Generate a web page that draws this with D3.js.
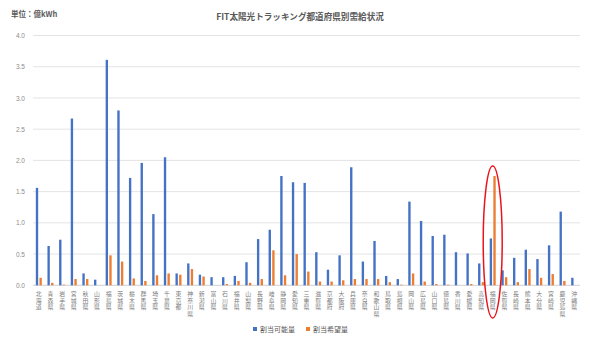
<!DOCTYPE html>
<html><head><meta charset="utf-8">
<script src="https://cdn.jsdelivr.net/npm/d3@7"></script>
<style>html,body{margin:0;padding:0;background:#fff;}svg{display:block;font-family:"Noto Sans CJK JP","Noto Sans",sans-serif;}</style>
</head><body><svg id="c" width="590" height="344"></svg>
<script>
const prefectures = ["北海道","青森県","岩手県","宮城県","秋田県","山形県","福島県","茨城県","栃木県","群馬県","埼玉県","千葉県","東京都","神奈川県","新潟県","富山県","石川県","福井県","山梨県","長野県","岐阜県","静岡県","愛知県","三重県","滋賀県","京都府","大阪府","兵庫県","奈良県","和歌山県","鳥取県","島根県","岡山県","広島県","山口県","徳島県","香川県","愛媛県","高知県","福岡県","佐賀県","長崎県","熊本県","大分県","宮崎県","鹿児島県","沖縄県"];
const allocatable = [1.56,0.63,0.73,2.67,0.19,0.09,3.61,2.80,1.72,1.96,1.14,2.05,0.19,0.35,0.17,0.13,0.13,0.15,0.37,0.74,0.89,1.75,1.65,1.64,0.53,0.25,0.48,1.89,0.38,0.71,0.15,0.10,1.34,1.03,0.79,0.81,0.53,0.51,0.35,0.75,0.24,0.44,0.57,0.42,0.64,1.18,0.12];
const requested = [0.12,0.04,0.01,0.10,0.10,0.00,0.48,0.38,0.11,0.07,0.16,0.19,0.17,0.26,0.14,0.00,0.02,0.07,0.04,0.10,0.56,0.16,0.50,0.22,0.06,0.06,0.08,0.10,0.10,0.10,0.05,0.01,0.19,0.06,0.02,0.01,0.00,0.02,0.05,1.75,0.13,0.05,0.26,0.12,0.18,0.07,0.00];
const seriesNames = ["割当可能量","割当希望量"];
const seriesColors = ["#4472C4","#ED7D31"];
const yTicks = [0,0.5,1.0,1.5,2.0,2.5,3.0,3.5,4.0];
const title = "FIT太陽光トラッキング都道府県別需給状況";
const unitLabel = "単位：億kWh";
const highlight = "福岡県";

const svg = d3.select("#c");
const L = 33, R = 580, T = 35.5, B = 285.3;
const x = d3.scaleBand().domain(prefectures).range([L, R]).paddingInner(0).paddingOuter(0);
const xs = d3.scaleBand().domain(seriesNames).range([x.bandwidth()/2 - 3.0, x.bandwidth()/2 + 3.0]).paddingInner(0.35);
const y = d3.scaleLinear().domain([0, 4]).range([B, T]);

// gridlines
svg.append("g").selectAll("line").data(yTicks).join("line")
  .attr("x1", L).attr("x2", R)
  .attr("y1", d => y(d)).attr("y2", d => y(d))
  .attr("stroke", d => d === 0 ? "#D0D0D0" : "#E4E4E4").attr("stroke-width", 1);

// y axis labels
const yAxis = d3.axisLeft(y).tickValues(yTicks).tickFormat(d3.format(".1f")).tickSize(0).tickPadding(0);
const ga = svg.append("g").attr("transform", `translate(25,0)`).call(yAxis);
ga.select(".domain").remove();
ga.selectAll("text").attr("fill", "#8C8C8C").attr("font-size", 6.5).attr("font-family", "Liberation Sans, Arial, sans-serif");

// bars
const rows = prefectures.map((p, i) => ({p, vals: [allocatable[i], requested[i]]}));
const g = svg.append("g");
rows.forEach(r => {
  g.selectAll(null).data(r.vals).join("rect")
    .attr("x", (d, j) => x(r.p) + xs(seriesNames[j]))
    .attr("width", xs.bandwidth())
    .attr("y", d => y(d))
    .attr("height", d => y(0) - y(d))
    .attr("fill", (d, j) => seriesColors[j]);
});

// category labels: one character per row, stacked vertically
const chars = [];
prefectures.forEach(p => Array.from(p).forEach((ch, k) => chars.push({p, ch, k})));
svg.append("g").selectAll("text").data(chars).join("text")
  .attr("x", d => x(d.p) + x.bandwidth()/2)
  .attr("y", d => 296 + d.k * 6.6)
  .attr("text-anchor", "middle")
  .attr("font-family", "'Liberation Sans','Noto Sans CJK JP',sans-serif")
  .attr("fill", "#7A7A7A").attr("font-size", 5.9)
  .text(d => d.ch);

// title & unit
svg.append("text").attr("x", 300).attr("y", 20).attr("text-anchor", "middle")
  .attr("font-size", 8.6).attr("font-weight", "bold").attr("fill", "#595959").text(title);
svg.append("text").attr("x", 11).attr("y", 17).attr("font-size", 7.5).attr("font-weight", "bold").attr("fill", "#595959").text(unitLabel);

// legend
const lg = svg.append("g");
const legX = [253, 306];
seriesNames.forEach((n, i) => {
  lg.append("rect").attr("x", legX[i]).attr("y", 327).attr("width", 4).attr("height", 4).attr("fill", seriesColors[i]);
  lg.append("text").attr("x", legX[i] + 7).attr("y", 331.5).attr("font-size", 7).attr("fill", "#595959").text(n);
});

// highlight ellipse
const hx = x(highlight) + x.bandwidth()/2;
svg.append("ellipse").attr("cx", hx).attr("cy", 242).attr("rx", 9.5).attr("ry", 76)
  .attr("fill", "none").attr("stroke", "#E8141B").attr("stroke-width", 1.5);
</script></body></html>
